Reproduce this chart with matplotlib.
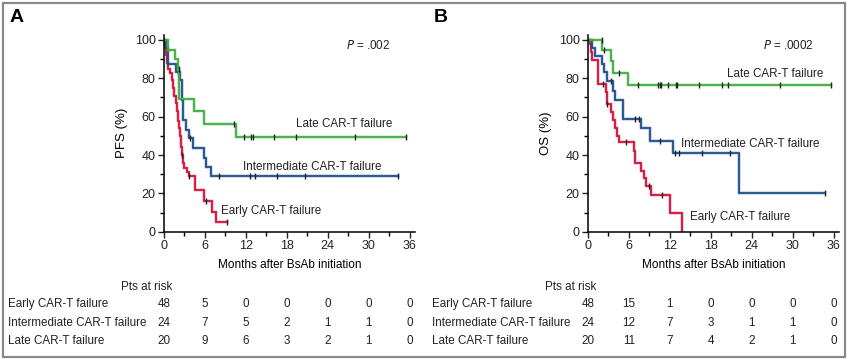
import numpy as np
import matplotlib
matplotlib.use("Agg")
import matplotlib.pyplot as plt
from matplotlib.patches import Rectangle
from matplotlib.transforms import blended_transform_factory

plt.rcParams['font.family'] = ['Liberation Sans', 'DejaVu Sans']

# ---------- data ----------
months = [0, 6, 12, 18, 24, 30, 36]
groups = ['Early CAR-T failure', 'Intermediate CAR-T failure', 'Late CAR-T failure']

# PFS (panel A): step times (months) and survival (%)
pfs_early_t = [0, 0.15, 0.3, 0.45, 0.6, 0.9, 1.1, 1.3, 1.5, 1.7, 1.9, 2.0, 2.15, 2.3, 2.45,
               2.6, 2.8, 3.0, 3.3, 3.6, 4.5, 5.9, 7.1, 7.6, 9.2]
pfs_early_s = [100, 96, 92, 88, 85, 83, 79, 75, 71, 67, 63, 58, 54, 50, 44,
               40, 36, 33, 31, 29, 22, 16, 10.5, 5.2, 5.2]
pfs_early_cens = [2.65, 3.7, 6.1, 9.2]

pfs_inter_t = [0, 0.3, 0.6, 1.8, 2.35, 2.7, 2.85, 3.2, 3.7, 4.3, 5.9, 6.1, 6.9, 34.3]
pfs_inter_s = [100, 95.8, 87.5, 83.3, 79.2, 68.7, 58.3, 53, 48.7, 43.8, 38.5, 33.7, 28.9, 28.9]
pfs_inter_cens = [2.1, 3.75, 8.0, 12.6, 13.3, 16.6, 20.6, 34.3]

pfs_late_t = [0, 0.6, 1.6, 2.0, 2.25, 4.4, 5.8, 10.6, 35.5]
pfs_late_s = [100, 95, 90, 85, 69, 63, 56.2, 49.6, 49.6]
pfs_late_cens = [2.15, 10.2, 11.7, 12.8, 13.0, 16.1, 19.4, 28.0, 35.5]

# OS (panel B)
os_early_t = [0, 0.25, 0.4, 0.65, 1.4, 1.5, 2.6, 2.75, 3.3, 3.6, 3.9, 4.2, 4.5, 6.75,
              6.9, 7.8, 8.2, 8.5, 9.2, 12.0, 13.85]
os_early_s = [100, 97.9, 93.8, 89.6, 85.4, 77.1, 72.9, 66.7, 62.5, 58.3, 54.2, 50, 46.9, 42.2,
              36, 31.9, 27.8, 23.6, 19.2, 9.6, 0]
os_early_cens = [2.2, 2.8, 5.5, 8.9, 10.9]

os_inter_t = [0, 0.6, 1.0, 2.0, 2.35, 2.8, 3.7, 4.0, 5.1, 7.7, 9.1, 12.4, 22.1, 34.8]
os_inter_s = [100, 95.8, 91.7, 87.5, 83.3, 78.5, 73.6, 68.7, 58.8, 53.9, 47.5, 40.8, 20.4, 20.4]
os_inter_cens = [3.3, 6.9, 7.5, 10.6, 12.8, 13.4, 16.7, 20.8, 34.8]

os_late_t = [0, 2.1, 3.4, 3.7, 5.8, 35.7]
os_late_s = [100, 95, 89, 83, 76.5, 76.5]
os_late_cens = [2.05, 2.4, 4.5, 7.3, 10.2, 10.5, 10.7, 11.7, 12.9, 13.1, 16.3, 19.6, 20.5, 28.2, 35.7]

# patients at risk
pfs_risk_early = [48, 5, 0, 0, 0, 0, 0]
pfs_risk_inter = [24, 7, 5, 2, 1, 1, 0]
pfs_risk_late = [20, 9, 6, 3, 2, 1, 0]
os_risk_early = [48, 15, 1, 0, 0, 0, 0]
os_risk_inter = [24, 12, 7, 3, 1, 1, 0]
os_risk_late = [20, 11, 7, 4, 2, 1, 0]

colors = ['#d2133c', '#1d4f8c', '#3fae3f']
W, H = 849, 360
FS = 8.4
label_font = ['Liberation Sans Narrow', 'Liberation Sans']


def step_value(t, s, x):
    i = np.searchsorted(t, x, side='right') - 1
    return np.asarray(s)[i]


def draw_panel(fig, left_px, curves, letter, ylabel, pval, label_pos, risks):
    ax = fig.add_axes([left_px / W, (H - 231.7) / H, 251 / W, 196.7 / H])
    for (t, s, cens), c in zip(curves, colors):
        ax.step(t, s, where='post', color=c, lw=1.3, solid_joinstyle='miter')
        ax.step(t, s, where='post', color=c, lw=2.6, alpha=0.25)
        ax.plot(cens, step_value(t, s, cens), ls='none', marker='|', ms=5,
                mew=1.0, color='#222222')
    ax.set_xlim(0, 36.8)
    ax.set_ylim(0, 102.6)
    ax.set_xticks(months)
    ax.set_xticks(np.arange(3, 37, 6), minor=True)
    ax.set_yticks(range(0, 101, 20))
    ax.set_yticks(range(10, 100, 20), minor=True)
    for sp in ['top', 'right']:
        ax.spines[sp].set_visible(False)
    for sp in ['left', 'bottom']:
        ax.spines[sp].set_linewidth(1.1)
    ax.tick_params(which='major', length=4, width=1, labelsize=9, colors='#222222', pad=2)
    ax.tick_params(which='minor', length=3, width=1)
    ax.set_ylabel(ylabel, family=label_font, fontsize=9.5, labelpad=5)
    ax.set_xlabel('Months after BsAb initiation', family=label_font, fontsize=8.5, labelpad=5)

    ax.text(0.9, 0.945, '$\\it{P}$ = ' + pval, transform=ax.transAxes, ha='right',
            va='center', fontsize=FS, color='#222222')
    for name, (x, y) in zip(groups, label_pos):
        ax.text(x, y, name, fontsize=FS, color='#222222', ha='left', va='center')

    fig.text((left_px - 154) / W, 1 - 18 / H, letter, fontsize=14, fontweight='bold',
             ha='left', va='center')

    tr = blended_transform_factory(ax.transData, fig.transFigure)
    fig.text((left_px + 8) / W, 1 - 287 / H, 'Pts at risk', fontsize=FS, ha='right',
             va='center', color='#222222')
    for row, (name, vals) in enumerate(zip(groups, risks)):
        y = 1 - (304.3 + row * 18.4) / H
        fig.text((left_px - 156) / W, y, name, fontsize=FS, ha='left', va='center',
                 color='#222222')
        for m, v in zip(months, vals):
            ax.text(m, y, str(v), transform=tr, fontsize=FS, ha='center', va='center',
                    color='#222222', clip_on=False)
    return ax


fig = plt.figure(figsize=(W / 100, H / 100), dpi=100)
fig.patches.append(Rectangle((3 / W, 3 / H), 842 / W, 354 / H, transform=fig.transFigure,
                             fill=False, edgecolor='#8a8a8a', lw=1.6))

draw_panel(fig, 588 - 424,
           [(pfs_early_t, pfs_early_s, pfs_early_cens),
            (pfs_inter_t, pfs_inter_s, pfs_inter_cens),
            (pfs_late_t, pfs_late_s, pfs_late_cens)],
           'A', 'PFS (%)', '.002',
           [(8.4, 11), (11.6, 34), (19.4, 56)],
           [pfs_risk_early, pfs_risk_inter, pfs_risk_late])

draw_panel(fig, 588,
           [(os_early_t, os_early_s, os_early_cens),
            (os_inter_t, os_inter_s, os_inter_cens),
            (os_late_t, os_late_s, os_late_cens)],
           'B', 'OS (%)', '.0002',
           [(14.9, 7.5), (13.7, 45.5), (20.4, 82.5)],
           [os_risk_early, os_risk_inter, os_risk_late])

fig.savefig('out.png', dpi=100)
